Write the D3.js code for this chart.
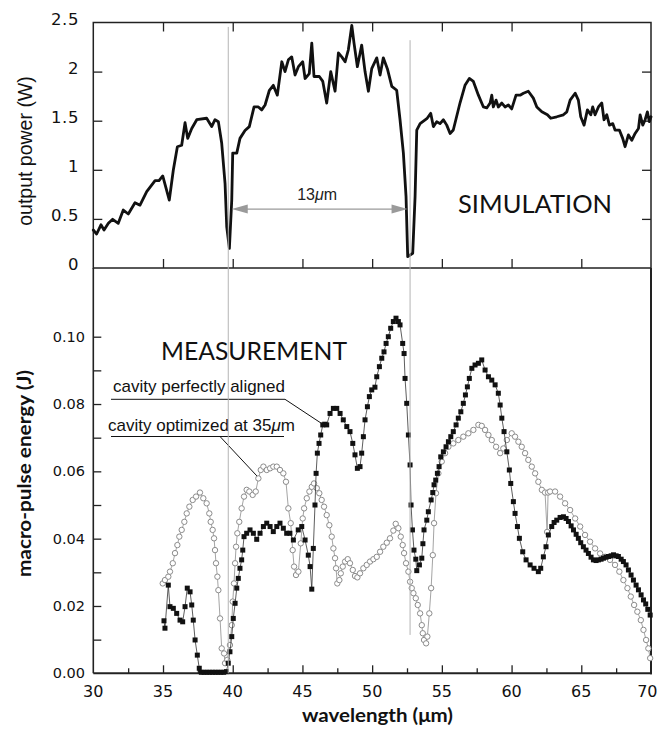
<!DOCTYPE html>
<html>
<head>
<meta charset="utf-8">
<script src="https://cdn.jsdelivr.net/npm/d3@7"></script>
<style>
  html, body { margin: 0; padding: 0; background: #fff; }
  svg { display: block; }
</style>
</head>
<body>
<svg id="chart" width="658" height="732"></svg>
<script>
// ---- Simulated output power (W) versus wavelength (µm) ----
const simWavelength = [
  30.00, 30.24, 30.55, 30.77, 31.08, 31.39, 31.79, 32.15, 32.51, 32.99, 33.35, 33.83,
  34.43, 34.71, 34.98, 35.45, 35.74, 36.03, 36.34, 36.58, 36.77, 37.06, 37.42, 38.13,
  38.49, 38.73, 38.97, 39.21, 39.45, 39.57, 39.76, 39.93, 40.00, 40.29, 40.52, 40.88,
  41.19, 41.53, 41.84, 42.08, 42.32, 42.63, 42.91, 43.20, 43.52, 43.75, 43.99, 44.23,
  44.47, 44.71, 45.02, 45.19, 45.49, 45.67, 45.83, 46.21, 46.46, 46.74, 47.03, 47.34,
  47.58, 47.82, 48.06, 48.29, 48.54, 48.70, 48.94, 49.25, 49.49, 49.73, 49.97, 50.33,
  50.57, 50.80, 51.09, 51.41, 51.76, 52.00, 52.24, 52.43, 52.55, 52.91, 53.08, 53.20,
  53.44, 53.92, 54.20, 54.39, 54.63, 54.87, 55.11, 55.35, 55.59, 55.82, 56.30, 56.66,
  56.97, 57.26, 57.62, 57.98, 58.22, 58.46, 58.58, 58.69, 58.89, 59.05, 59.30, 59.53,
  59.77, 60.01, 60.32, 60.61, 60.85, 61.20, 61.56, 61.81, 62.17, 62.57, 62.81, 63.24,
  63.72, 63.96, 64.20, 64.56, 64.79, 64.96, 65.20, 65.44, 65.68, 65.82, 65.99, 66.23,
  66.47, 66.63, 66.83, 67.02, 67.26, 67.42, 67.73, 67.97, 68.14, 68.38, 68.62, 68.86,
  69.10, 69.22, 69.41, 69.58, 69.74, 69.88, 70.00
];
const simPower = [
  0.387, 0.346, 0.440, 0.387, 0.455, 0.496, 0.455, 0.590, 0.550, 0.665, 0.640, 0.777,
  0.890, 0.890, 0.937, 0.692, 0.998, 1.235, 1.250, 1.480, 1.320, 1.420, 1.510, 1.525,
  1.440, 1.510, 1.490, 1.270, 0.860, 0.420, 0.200, 0.690, 1.170, 1.170, 1.320, 1.400,
  1.440, 1.640, 1.640, 1.610, 1.660, 1.810, 1.860, 1.760, 2.100, 2.000, 2.120, 2.150,
  1.965, 2.050, 2.100, 1.930, 1.980, 2.290, 1.950, 1.950, 1.900, 1.680, 2.000, 1.800,
  2.190, 2.150, 2.100, 2.220, 2.470, 2.290, 2.050, 2.270, 2.000, 1.800, 2.030, 2.140,
  1.965, 2.140, 2.030, 1.850, 1.810, 1.510, 1.170, 0.730, 0.115, 0.150, 0.730, 1.405,
  1.470, 1.520, 1.575, 1.440, 1.490, 1.470, 1.510, 1.455, 1.370, 1.405, 1.680, 1.860,
  1.930, 1.900, 1.760, 1.640, 1.630, 1.680, 1.760, 1.640, 1.710, 1.640, 1.680, 1.640,
  1.660, 1.620, 1.760, 1.760, 1.780, 1.800, 1.730, 1.640, 1.590, 1.560, 1.525, 1.540,
  1.560, 1.590, 1.710, 1.780, 1.710, 1.540, 1.455, 1.610, 1.560, 1.640, 1.560, 1.640,
  1.680, 1.510, 1.560, 1.455, 1.470, 1.405, 1.405, 1.320, 1.235, 1.355, 1.300, 1.370,
  1.420, 1.560, 1.455, 1.510, 1.590, 1.490, 1.540
];

// ---- Measured macro-pulse energy (J): cavity perfectly aligned ----
const alignedWavelength = [
  35.07, 35.14, 35.38, 35.50, 35.74, 35.98, 36.22, 36.41, 36.58, 36.74, 36.94, 37.06,
  37.17, 37.30, 37.46, 37.60, 37.75, 37.95, 38.15, 38.35, 38.55, 38.75, 38.95, 39.15,
  39.35, 39.55, 39.68, 39.80, 39.93, 40.04, 40.17, 40.29, 40.40, 40.52, 40.64, 40.72,
  40.81, 41.00, 41.24, 41.48, 41.72, 41.96, 42.20, 42.44, 42.68, 42.91, 43.16, 43.39,
  43.63, 43.87, 44.10, 44.35, 44.70, 44.95, 45.19, 45.42, 45.55, 45.67, 45.78, 45.90,
  45.98, 46.07, 46.19, 46.31, 46.46, 46.60, 46.74, 46.98, 47.22, 47.46, 47.70, 47.93,
  48.18, 48.41, 48.61, 48.77, 48.94, 49.13, 49.25, 49.37, 49.49, 49.66, 49.80, 49.97,
  50.20, 50.33, 50.52, 50.69, 50.85, 51.00, 51.16, 51.33, 51.52, 51.71, 51.88, 52.00,
  52.19, 52.29, 52.36, 52.48, 52.60, 52.72, 52.79, 52.89, 53.00, 53.13, 53.20, 53.39,
  53.56, 53.64, 53.72, 53.92, 54.03, 54.23, 54.35, 54.44, 54.56, 54.68, 54.80, 54.92,
  55.11, 55.30, 55.47, 55.64, 55.82, 56.02, 56.18, 56.36, 56.54, 56.69, 56.83, 56.97,
  57.15, 57.38, 57.62, 57.86, 58.10, 58.34, 58.58, 58.82, 59.05, 59.18, 59.30, 59.46,
  59.66, 59.84, 59.94, 60.13, 60.25, 60.42, 60.56, 60.80, 61.04, 61.33, 61.61, 61.92,
  62.09, 62.28, 62.47, 62.64, 62.88, 63.05, 63.24, 63.48, 63.72, 63.91, 64.08, 64.27,
  64.44, 64.63, 64.79, 64.96, 65.15, 65.34, 65.51, 65.70, 65.87, 66.06, 66.23, 66.42,
  66.59, 66.78, 66.95, 67.14, 67.31, 67.50, 67.66, 67.86, 68.02, 68.21, 68.38, 68.57,
  68.74, 68.93, 69.10, 69.29, 69.46, 69.62, 69.77, 69.94
];
const alignedEnergy = [
  0.0156, 0.0134, 0.0262, 0.0198, 0.0193, 0.0178, 0.0158, 0.0153, 0.0198, 0.0253, 0.0242, 0.0203,
  0.0158, 0.0099, 0.0054, 0.0015, 0.0003, 0.0003, 0.0003, 0.0003, 0.0003, 0.0003, 0.0003, 0.0003,
  0.0003, 0.0005, 0.0030, 0.0064, 0.0109, 0.0163, 0.0208, 0.0253, 0.0282, 0.0312, 0.0337, 0.0366,
  0.0406, 0.0416, 0.0426, 0.0416, 0.0398, 0.0416, 0.0436, 0.0446, 0.0436, 0.0421, 0.0436, 0.0446,
  0.0431, 0.0416, 0.0416, 0.0396, 0.0426, 0.0436, 0.0396, 0.0351, 0.0317, 0.0250, 0.0371, 0.0500,
  0.0594, 0.0654, 0.0683, 0.0708, 0.0738, 0.0740, 0.0738, 0.0772, 0.0787, 0.0787, 0.0772, 0.0753,
  0.0733, 0.0718, 0.0683, 0.0649, 0.0609, 0.0614, 0.0654, 0.0703, 0.0753, 0.0792, 0.0822, 0.0842,
  0.0850, 0.0881, 0.0911, 0.0936, 0.0955, 0.0980, 0.1000, 0.1025, 0.1045, 0.1055, 0.1045, 0.1035,
  0.0980, 0.0950, 0.0876, 0.0802, 0.0708, 0.0619, 0.0500, 0.0426, 0.0366, 0.0339, 0.0305, 0.0322,
  0.0342, 0.0385, 0.0426, 0.0455, 0.0480, 0.0515, 0.0537, 0.0560, 0.0574, 0.0594, 0.0614, 0.0643,
  0.0658, 0.0673, 0.0688, 0.0703, 0.0718, 0.0738, 0.0758, 0.0777, 0.0802, 0.0827, 0.0851, 0.0876,
  0.0906, 0.0916, 0.0921, 0.0931, 0.0901, 0.0881, 0.0871, 0.0857, 0.0832, 0.0797, 0.0758, 0.0718,
  0.0658, 0.0604, 0.0564, 0.0510, 0.0475, 0.0436, 0.0401, 0.0361, 0.0337, 0.0322, 0.0312, 0.0302,
  0.0312, 0.0346, 0.0376, 0.0411, 0.0436, 0.0448, 0.0455, 0.0463, 0.0465, 0.0460, 0.0451, 0.0438,
  0.0426, 0.0413, 0.0401, 0.0388, 0.0376, 0.0366, 0.0356, 0.0345, 0.0337, 0.0335, 0.0337, 0.0339,
  0.0342, 0.0345, 0.0347, 0.0349, 0.0352, 0.0349, 0.0347, 0.0339, 0.0332, 0.0322, 0.0307, 0.0292,
  0.0277, 0.0262, 0.0248, 0.0233, 0.0218, 0.0206, 0.0190, 0.0173
];

// ---- Measured macro-pulse energy (J): cavity optimized at 35 µm ----
const optimizedWavelength = [
  34.98, 35.14, 35.38, 35.50, 35.70, 35.86, 36.03, 36.17, 36.34, 36.53, 36.70, 36.89,
  37.13, 37.37, 37.65, 37.89, 38.13, 38.32, 38.42, 38.56, 38.66, 38.73, 38.80, 38.90,
  38.97, 39.09, 39.21, 39.38, 39.45, 39.61, 39.80, 39.93, 40.00, 40.09, 40.17, 40.24,
  40.33, 40.47, 40.64, 40.81, 41.00, 41.19, 41.43, 41.65, 41.84, 42.01, 42.20, 42.44,
  42.68, 42.91, 43.16, 43.39, 43.63, 43.82, 43.99, 44.16, 44.30, 44.40, 44.54, 44.71,
  44.88, 45.02, 45.12, 45.31, 45.50, 45.67, 45.83, 46.03, 46.21, 46.38, 46.55, 46.74,
  46.93, 47.10, 47.22, 47.34, 47.41, 47.50, 47.65, 47.75, 47.89, 48.06, 48.25, 48.41,
  48.61, 48.77, 48.94, 49.13, 49.37, 49.61, 49.85, 50.09, 50.33, 50.57, 50.80, 51.05,
  51.28, 51.52, 51.69, 51.88, 52.05, 52.19, 52.29, 52.43, 52.60, 52.72, 52.84, 52.96,
  53.13, 53.27, 53.44, 53.56, 53.63, 53.72, 53.87, 53.96, 54.10, 54.23, 54.35, 54.44,
  54.58, 54.75, 54.99, 55.23, 55.47, 55.82, 56.18, 56.54, 56.90, 57.26, 57.62, 57.86,
  58.10, 58.34, 58.58, 58.89, 59.18, 59.41, 59.66, 60.01, 60.25, 60.49, 60.73, 60.97,
  61.20, 61.45, 61.69, 61.92, 62.17, 62.40, 62.55, 62.62, 62.76, 63.12, 63.48, 63.84,
  64.20, 64.56, 64.92, 65.27, 65.63, 65.99, 66.35, 66.71, 67.06, 67.42, 67.73, 68.02,
  68.31, 68.55, 68.79, 69.02, 69.27, 69.46, 69.65, 69.81, 69.94
];
const optimizedEnergy = [
  0.0267, 0.0277, 0.0287, 0.0302, 0.0327, 0.0357, 0.0381, 0.0406, 0.0426, 0.0450, 0.0475, 0.0495,
  0.0515, 0.0525, 0.0537, 0.0520, 0.0505, 0.0475, 0.0450, 0.0426, 0.0401, 0.0366, 0.0327, 0.0287,
  0.0247, 0.0163, 0.0074, 0.0059, 0.0030, 0.0040, 0.0084, 0.0143, 0.0213, 0.0267, 0.0327, 0.0376,
  0.0416, 0.0450, 0.0490, 0.0525, 0.0545, 0.0540, 0.0530, 0.0540, 0.0579, 0.0604, 0.0614, 0.0604,
  0.0609, 0.0614, 0.0614, 0.0604, 0.0594, 0.0569, 0.0490, 0.0446, 0.0366, 0.0317, 0.0292, 0.0302,
  0.0386, 0.0460, 0.0490, 0.0520, 0.0540, 0.0554, 0.0564, 0.0550, 0.0535, 0.0515, 0.0495, 0.0470,
  0.0440, 0.0406, 0.0371, 0.0342, 0.0312, 0.0267, 0.0277, 0.0297, 0.0317, 0.0332, 0.0339, 0.0327,
  0.0307, 0.0289, 0.0285, 0.0297, 0.0312, 0.0322, 0.0332, 0.0339, 0.0346, 0.0361, 0.0376, 0.0388,
  0.0401, 0.0424, 0.0444, 0.0431, 0.0406, 0.0381, 0.0357, 0.0327, 0.0302, 0.0272, 0.0253, 0.0238,
  0.0223, 0.0203, 0.0178, 0.0143, 0.0119, 0.0099, 0.0089, 0.0109, 0.0178, 0.0253, 0.0351, 0.0446,
  0.0535, 0.0594, 0.0629, 0.0654, 0.0673, 0.0683, 0.0693, 0.0703, 0.0713, 0.0723, 0.0738, 0.0735,
  0.0723, 0.0708, 0.0693, 0.0673, 0.0654, 0.0668, 0.0693, 0.0713, 0.0703, 0.0688, 0.0673, 0.0654,
  0.0634, 0.0614, 0.0594, 0.0569, 0.0545, 0.0537, 0.0420, 0.0537, 0.0540, 0.0540, 0.0525, 0.0505,
  0.0485, 0.0460, 0.0436, 0.0411, 0.0391, 0.0371, 0.0356, 0.0346, 0.0337, 0.0322, 0.0302, 0.0277,
  0.0253, 0.0228, 0.0203, 0.0183, 0.0158, 0.0129, 0.0099, 0.0074, 0.0045
];

// ---- Axis ticks and reference marks ----
const xTickValues = [30, 35, 40, 45, 50, 55, 60, 65, 70];
const xMinorTicks = [32.5, 37.5, 42.5, 47.5, 52.5, 57.5, 62.5, 67.5];
const powerTickValues = [0, 0.5, 1, 1.5, 2, 2.5];
const powerTickLabels = ["0", "0.5", "1", "1.5", "2", "2.5"];
const energyTickValues = [0, 0.02, 0.04, 0.06, 0.08, 0.10];
const energyMinorTicks = [0.01, 0.03, 0.05, 0.07, 0.09];
const gapWavelengths = [39.68, 52.72];   // the two power dips, 13 µm apart
const arrowLevel = 0.6;                  // power level of the 13 µm arrow

const svg = d3.select("#chart");
svg.append("rect").attr("width", 658).attr("height", 732).attr("fill", "#fff");

const x = d3.scaleLinear().domain([30, 70]).range([93.3, 651]);
const yTop = d3.scaleLinear().domain([0, 2.5]).range([268, 22.5]);
const yBot = d3.scaleLinear().domain([0, 0.1]).range([673.3, 336.7]);

const AXIS = "#222";
const tickFont = "'DejaVu Sans', 'Liberation Sans', sans-serif";

function styleAxis(g, width) {
  g.select(".domain").remove();
  g.selectAll(".tick line").attr("stroke", AXIS).attr("stroke-width", width || 1.3);
}

// ---------- Top panel: simulation ----------
const simPanel = svg.append("g");

// inward ticks on all four sides
simPanel.append("g").attr("transform", "translate(0,268)")
  .call(d3.axisTop(x).tickValues(xTickValues.slice(1, -1)).tickSize(9).tickFormat(""))
  .call(styleAxis);
simPanel.append("g").attr("transform", "translate(0,22.5)")
  .call(d3.axisBottom(x).tickValues(xTickValues.slice(1, -1)).tickSize(9).tickFormat(""))
  .call(styleAxis);
simPanel.append("g").attr("transform", "translate(93.3,0)")
  .call(d3.axisRight(yTop).tickValues(powerTickValues.slice(1, -1)).tickSize(9).tickFormat(""))
  .call(styleAxis);
simPanel.append("g").attr("transform", "translate(651,0)")
  .call(d3.axisLeft(yTop).tickValues(powerTickValues.slice(1, -1)).tickSize(9).tickFormat(""))
  .call(styleAxis);

simPanel.append("rect")
  .attr("x", x(30)).attr("y", yTop(2.5))
  .attr("width", x(70) - x(30)).attr("height", yTop(0) - yTop(2.5))
  .attr("fill", "none").attr("stroke", AXIS).attr("stroke-width", 1.5);

simPanel.selectAll("text.ptick").data(powerTickValues).join("text")
  .attr("class", "ptick")
  .attr("x", 79).attr("y", d => yTop(d) - 3.5)
  .attr("text-anchor", "end").attr("dominant-baseline", "central")
  .attr("font-family", tickFont).attr("font-size", 16.5)
  .attr("letter-spacing", 0.6)
  .attr("fill", "#111")
  .text((d, i) => powerTickLabels[i]);

simPanel.append("text")
  .attr("transform", `translate(32,151) rotate(-90)`)
  .attr("text-anchor", "middle")
  .attr("font-family", "'Liberation Sans', Arial, sans-serif")
  .attr("font-size", 19.5).attr("fill", "#111")
  .text("output power (W)");

// ---------- Bottom panel: measurement ----------
const measPanel = svg.append("g");

measPanel.append("g").attr("transform", "translate(93.3,0)")
  .call(d3.axisRight(yBot).tickValues(energyTickValues.slice(1).concat(energyMinorTicks)).tickSize(8).tickFormat(""))
  .call(styleAxis);
measPanel.append("g").attr("transform", "translate(0,673.3)")
  .call(d3.axisTop(x).tickValues(xTickValues.slice(1, -1)).tickSize(8).tickFormat(""))
  .call(styleAxis);
measPanel.append("g").attr("transform", "translate(0,673.3)")
  .call(d3.axisTop(x).tickValues(xMinorTicks).tickSize(5).tickFormat(""))
  .call(styleAxis);

measPanel.append("line").attr("x1", x(30)).attr("x2", x(30)).attr("y1", yTop(0)).attr("y2", yBot(0))
  .attr("stroke", AXIS).attr("stroke-width", 1.6);
measPanel.append("line").attr("x1", x(70)).attr("x2", x(70)).attr("y1", yTop(0)).attr("y2", yBot(0) + 1)
  .attr("stroke", AXIS).attr("stroke-width", 2);
measPanel.append("line").attr("x1", x(30)).attr("x2", x(70) + 1).attr("y1", yBot(0)).attr("y2", yBot(0))
  .attr("stroke", AXIS).attr("stroke-width", 2);

measPanel.selectAll("text.etick").data(energyTickValues).join("text")
  .attr("class", "etick")
  .attr("x", 85).attr("y", d => yBot(d))
  .attr("text-anchor", "end").attr("dominant-baseline", "central")
  .attr("font-family", tickFont).attr("font-size", 14.5).attr("fill", "#111")
  .text(d => d3.format(".2f")(d));

// the last wavelength label is pulled in so it stays inside the page edge
measPanel.selectAll("text.xtick").data(xTickValues).join("text")
  .attr("class", "xtick")
  .attr("x", d => d === 70 ? 657.5 : x(d)).attr("y", 697)
  .attr("text-anchor", d => d === 70 ? "end" : "middle")
  .attr("font-family", tickFont).attr("font-size", 16).attr("fill", "#111")
  .text(d => d);

measPanel.append("text")
  .attr("transform", `translate(31,${(370 + 577) / 2}) rotate(-90)`)
  .attr("text-anchor", "middle")
  .attr("font-family", "Lato, 'DejaVu Sans', sans-serif").attr("font-weight", 700)
  .attr("font-size", 19).attr("fill", "#111")
  .attr("textLength", 207).attr("lengthAdjust", "spacingAndGlyphs")
  .text("macro-pulse energy (J)");

svg.append("text")
  .attr("x", 377.5).attr("y", 722)
  .attr("text-anchor", "middle")
  .attr("font-family", "Lato, 'DejaVu Sans', sans-serif").attr("font-weight", 700)
  .attr("font-size", 19).attr("fill", "#111")
  .attr("textLength", 151).attr("lengthAdjust", "spacingAndGlyphs")
  .text("wavelength (μm)");

// ---------- Vertical marks at the two dips ----------
svg.append("line")
  .attr("x1", x(gapWavelengths[0])).attr("x2", x(gapWavelengths[0]))
  .attr("y1", yTop(2.455)).attr("y2", yBot(0))
  .attr("stroke", "#b4b4b4").attr("stroke-width", 1);
svg.append("line")
  .attr("x1", x(gapWavelengths[1])).attr("x2", x(gapWavelengths[1]))
  .attr("y1", yTop(2.32)).attr("y2", yBot(0.0114))
  .attr("stroke", "#b4b4b4").attr("stroke-width", 1);

// ---------- Simulation curve ----------
const simData = simWavelength.map((w, i) => [w, simPower[i]]);
simPanel.append("path")
  .datum(simData)
  .attr("d", d3.line().x(d => x(d[0])).y(d => yTop(d[1])))
  .attr("fill", "none").attr("stroke", "#111")
  .attr("stroke-width", 2.8).attr("stroke-linejoin", "round").attr("stroke-linecap", "round");

// 13 µm double arrow between the dips
const ay = yTop(arrowLevel);
const ax1 = x(gapWavelengths[0]) + 3.5, ax2 = x(gapWavelengths[1]) - 2.5;
const ARROW = "#9a9a9a";
simPanel.append("line").attr("x1", ax1 + 10).attr("x2", ax2 - 10).attr("y1", ay).attr("y2", ay)
  .attr("stroke", ARROW).attr("stroke-width", 1.2);
simPanel.append("path")
  .attr("d", `M${ax1},${ay} L${ax1 + 16},${ay - 4.5} L${ax1 + 16},${ay + 4.5} Z`)
  .attr("fill", ARROW);
simPanel.append("path")
  .attr("d", `M${ax2},${ay} L${ax2 - 16},${ay - 4.5} L${ax2 - 16},${ay + 4.5} Z`)
  .attr("fill", ARROW);
const gapLabel = simPanel.append("text")
  .attr("x", (ax1 + ax2) / 2 - 2.5).attr("y", ay - 9.5)
  .attr("text-anchor", "middle")
  .attr("font-family", "'Liberation Sans', Arial, sans-serif")
  .attr("font-size", 16).attr("fill", "#222");
gapLabel.append("tspan").text("13");
gapLabel.append("tspan").attr("font-style", "italic").text("μ");
gapLabel.append("tspan").text("m");

simPanel.append("text")
  .attr("x", 458).attr("y", 213)
  .attr("font-family", "Lato, 'Open Sans', sans-serif").attr("font-weight", 400)
  .attr("font-size", 25).attr("fill", "#111")
  .attr("textLength", 154).attr("lengthAdjust", "spacingAndGlyphs")
  .text("SIMULATION");

// ---------- Measurement series ----------
const optData = optimizedWavelength.map((w, i) => [w, optimizedEnergy[i]]);
const alnData = alignedWavelength.map((w, i) => [w, alignedEnergy[i]]);
const eLine = d3.line().x(d => x(d[0])).y(d => yBot(d[1]));

measPanel.append("path").datum(optData).attr("d", eLine)
  .attr("fill", "none").attr("stroke", "#9a9a9a").attr("stroke-width", 0.9);
measPanel.selectAll("circle.opt").data(optData).join("circle")
  .attr("class", "opt")
  .attr("cx", d => x(d[0])).attr("cy", d => yBot(d[1])).attr("r", 2.7)
  .attr("fill", "#fff").attr("stroke", "#8c8c8c").attr("stroke-width", 1);

measPanel.append("path").datum(alnData).attr("d", eLine)
  .attr("fill", "none").attr("stroke", "#333").attr("stroke-width", 0.8);
measPanel.selectAll("rect.aln").data(alnData).join("rect")
  .attr("class", "aln")
  .attr("x", d => x(d[0]) - 2.5).attr("y", d => yBot(d[1]) - 2.5)
  .attr("width", 5).attr("height", 5).attr("fill", "#111");

// ---------- Labels and leader lines ----------
measPanel.append("text")
  .attr("x", 161).attr("y", 360)
  .attr("font-family", "Lato, 'Open Sans', sans-serif").attr("font-weight", 400)
  .attr("font-size", 25).attr("fill", "#111")
  .attr("textLength", 186).attr("lengthAdjust", "spacingAndGlyphs")
  .text("MEASUREMENT");

const annFont = "'Liberation Sans', Arial, sans-serif";
measPanel.append("text")
  .attr("x", 113).attr("y", 391.5)
  .attr("font-family", annFont).attr("font-size", 17).attr("fill", "#111")
  .text("cavity perfectly aligned");
const alnTarget = [46.6, 0.0740];
measPanel.append("path")
  .attr("d", `M111,399.3 L285,399.3 L${x(alnTarget[0]) - 2},${yBot(alnTarget[1])}`)
  .attr("fill", "none").attr("stroke", "#111").attr("stroke-width", 1);

const optLabel = measPanel.append("text")
  .attr("x", 108).attr("y", 431)
  .attr("font-family", annFont).attr("font-size", 17).attr("fill", "#111");
optLabel.append("tspan").text("cavity optimized at 35");
optLabel.append("tspan").attr("font-style", "italic").text("μ");
optLabel.append("tspan").text("m");
const optTarget = [41.84, 0.0579];
measPanel.append("line").attr("x1", 111).attr("x2", 284).attr("y1", 436.5).attr("y2", 436.5)
  .attr("stroke", "#111").attr("stroke-width", 1);
measPanel.append("line")
  .attr("x1", 220).attr("y1", 436.5)
  .attr("x2", x(optTarget[0]) - 1.5).attr("y2", yBot(optTarget[1]) - 2.5)
  .attr("stroke", "#111").attr("stroke-width", 1);
</script>
</body>
</html>
